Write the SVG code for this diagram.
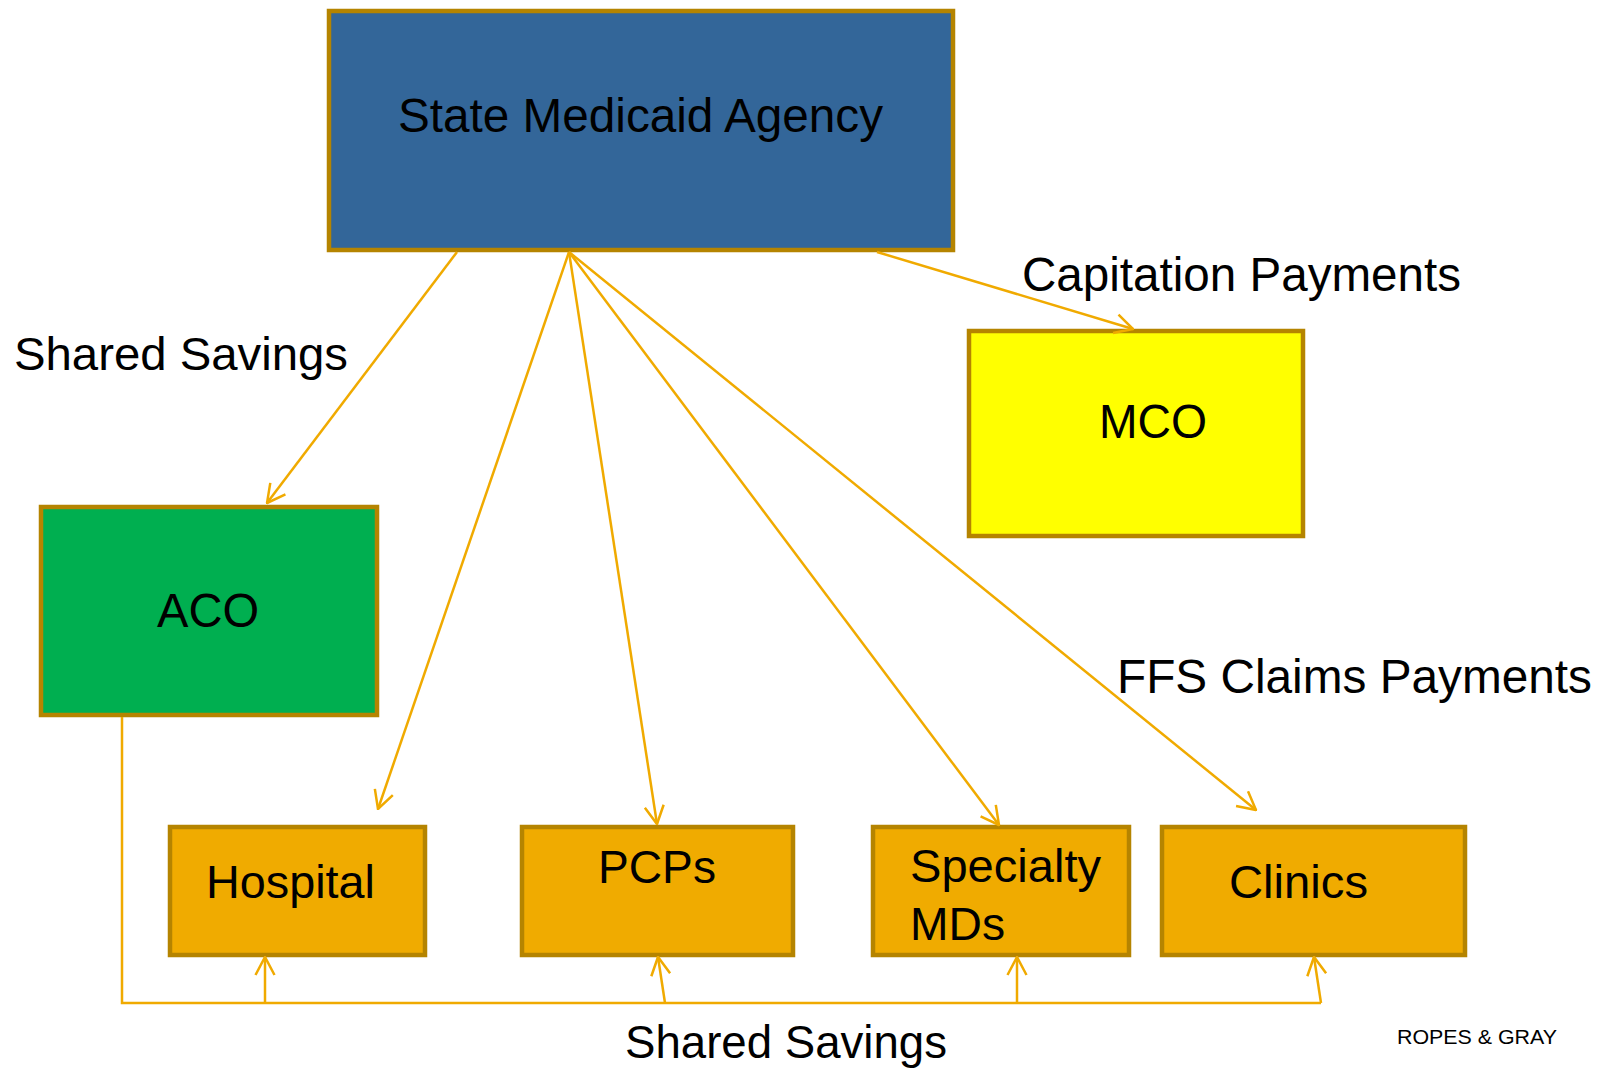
<svg xmlns="http://www.w3.org/2000/svg" width="1614" height="1068" viewBox="0 0 1614 1068">
<style>
.box{stroke:#B58400;stroke-width:4.5}
.t{font-family:"Liberation Sans",Arial,sans-serif;fill:#000}
.c{fill:none;stroke:#F0AA00;stroke-width:2.5}
.a{marker-end:url(#arr)}
</style>
<defs>
<marker id="arr" viewBox="0 0 22 22" refX="21" refY="11" markerWidth="22" markerHeight="22" markerUnits="userSpaceOnUse" orient="auto">
<path d="M3,1.5 L21,11 L3,20.5" fill="none" stroke="#F0AA00" stroke-width="2.5"/>
</marker>
</defs>
<rect width="1614" height="1068" fill="#fff"/>
<g id="state">
<rect class="box" x="329" y="11" width="624" height="239" fill="#336699"/>
<text class="t" x="398" y="132" font-size="48" textLength="485" lengthAdjust="spacingAndGlyphs">State Medicaid Agency</text>
</g>
<g id="mco">
<rect class="box" x="969" y="331" width="334" height="205" fill="#FFFF00"/>
<text class="t" x="1099" y="438" font-size="48" textLength="108" lengthAdjust="spacingAndGlyphs">MCO</text>
</g>
<g id="aco">
<rect class="box" x="41" y="507" width="336" height="208" fill="#00AF50"/>
<text class="t" x="157" y="627" font-size="48" textLength="102" lengthAdjust="spacingAndGlyphs">ACO</text>
</g>
<g id="hospital">
<rect class="box" x="170" y="827" width="255" height="128" fill="#F0AB00"/>
<text class="t" x="206" y="898" font-size="46" textLength="169" lengthAdjust="spacingAndGlyphs">Hospital</text>
</g>
<g id="pcps">
<rect class="box" x="522" y="827" width="271" height="128" fill="#F0AB00"/>
<text class="t" x="598" y="883" font-size="46" textLength="118" lengthAdjust="spacingAndGlyphs">PCPs</text>
</g>
<g id="specialty">
<rect class="box" x="873" y="827" width="256" height="128" fill="#F0AB00"/>
<text class="t" x="910" y="882" font-size="46" textLength="191" lengthAdjust="spacingAndGlyphs">Specialty</text>
<text class="t" x="910" y="940" font-size="46" textLength="95" lengthAdjust="spacingAndGlyphs">MDs</text>
</g>
<g id="clinics">
<rect class="box" x="1162" y="827" width="303" height="128" fill="#F0AB00"/>
<text class="t" x="1229" y="898" font-size="46" textLength="139" lengthAdjust="spacingAndGlyphs">Clinics</text>
</g>
<g id="connectors">
<line class="c a" x1="457" y1="252" x2="267" y2="503"/>
<line class="c a" x1="569" y1="252" x2="378" y2="809"/>
<line class="c a" x1="569" y1="252" x2="657" y2="824"/>
<line class="c a" x1="569" y1="252" x2="999" y2="825"/>
<line class="c a" x1="569" y1="252" x2="1256" y2="810"/>
<line class="c a" x1="877" y1="252" x2="1133" y2="329"/>
<polyline class="c" points="122,717 122,1003 1321,1003"/>
<line class="c a" x1="265" y1="1003" x2="265" y2="957"/>
<line class="c a" x1="665" y1="1003" x2="658" y2="957"/>
<line class="c a" x1="1017" y1="1003" x2="1017" y2="957"/>
<line class="c a" x1="1321" y1="1003" x2="1314" y2="957"/>
</g>
<g id="labels">
<text class="t" x="1022" y="291" font-size="48" textLength="439" lengthAdjust="spacingAndGlyphs">Capitation Payments</text>
<text class="t" x="14" y="370" font-size="47" textLength="334" lengthAdjust="spacingAndGlyphs">Shared Savings</text>
<text class="t" x="1117" y="693" font-size="48" textLength="475" lengthAdjust="spacingAndGlyphs">FFS Claims Payments</text>
<text class="t" x="625" y="1058" font-size="46" textLength="322" lengthAdjust="spacingAndGlyphs">Shared Savings</text>
<text class="t" x="1397" y="1044" font-size="20.5" textLength="160" lengthAdjust="spacingAndGlyphs">ROPES &amp; GRAY</text>
</g>
</svg>
